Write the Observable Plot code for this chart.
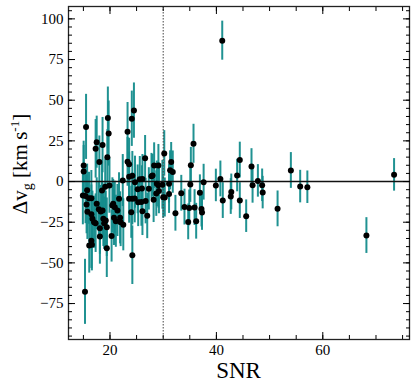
<!DOCTYPE html>
<html>
<head>
<meta charset="utf-8">
<script src="https://cdn.jsdelivr.net/npm/d3@7"></script>
<script src="https://cdn.jsdelivr.net/npm/@observablehq/plot@0.6"></script>
<style>
  html, body { margin: 0; padding: 0; background: #fff; }
  #chart { width: 415px; height: 388px; }
  #chart svg, #chart svg text, #chart svg tspan { font-family: "Liberation Serif", serif !important; }
</style>
</head>
<body>
<div id="chart"></div>
<script>
// SNR values
const snr = [41.1, 15.5, 19.6, 19.75, 24.5, 24.1, 23.3, 17.5, 17.3, 18.6,
  18.0, 19.5, 15.05, 15.05, 23.3, 23.6, 26.6, 30.2, 31.5, 31.3,
  31.8, 28.3, 29.1, 35.7, 35.2, 44.4, 43.9, 46.6, 40.75, 22.4,
  23.6, 24.2, 25.6, 26.1, 27.8, 28.0, 24.7, 47.8, 54.0, 73.4,
  28.8, 29.1, 29.85, 27.3, 31.1, 25.2, 26.0, 33.4, 35.1, 37.6,
  39.9, 36.9, 42.7, 42.8, 18.5, 15.7, 19.1, 19.9, 14.9, 15.4,
  16.5, 16.05, 31.1, 30.0, 30.3, 32.3, 34.0, 34.9, 34.7, 35.9,
  36.2, 37.2, 37.3, 41.2, 44.4, 45.6, 46.8, 48.6, 48.7, 51.5,
  55.75, 57.1, 68.2, 15.6, 15.75, 16.5, 16.7, 17.0, 17.3, 17.5,
  17.9, 18.25, 18.6, 18.1, 18.75, 19.2, 18.9, 19.4, 20.45, 20.9,
  20.6, 20.75, 21.1, 21.9, 22.0, 22.5, 21.7, 23.6, 24.2, 24.65,
  24.0, 25.3, 25.9, 26.7, 26.1, 27.0, 28.2, 28.7, 29.2, 15.3,
  24.2, 19.4, 16.1, 16.6, 16.5, 20.3, 18.1, 21.4];
// Delta v_g values (km/s)
const dv = [86.6, 33.6, 39.1, 29.5, 43.6, 38.6, 30.6, 24.2, 20.1, 22.4,
  12.0, 14.9, 9.8, 6.2, 12.1, 10.6, 14.3, 17.3, 12.0, 6.9,
  5.8, 9.8, 9.8, 23.2, 10.0, 13.2, 3.7, 9.2, 1.6, 0.6,
  3.0, 3.5, 1.4, 1.6, 3.3, 3.7, -0.4, 0.4, 6.8, 4.1,
  -1.4, -2.3, -2.0, -4.5, -1.3, -4.8, -4.3, -7.2, -1.8, -0.4,
  -2.4, -6.9, -9.2, -6.4, -5.5, -5.3, -3.2, -2.5, -8.6, -8.9,
  -10.2, -10.3, -7.6, -9.6, -9.8, -19.5, -15.7, -16.2, -24.8, -16.0,
  -24.4, -16.9, -19.0, -11.7, -11.7, -21.3, -2.3, -2.3, -6.8, -16.8,
  -3.1, -3.5, -33.2, -14.1, -18.6, -20.1, -22.9, -25.0, -25.6, -13.7,
  -17.1, -18.4, -17.8, -28.7, -22.9, -24.0, -25.6, -28.1, -14.7, -15.8,
  -13.7, -22.3, -24.4, -22.3, -25.0, -26.6, -10.6, -10.6, -10.6, -10.4,
  -18.9, -12.7, -12.5, -12.0, -18.2, -21.1, -11.2, -7.4, -5.8, -67.8,
  -45.3, -41.0, -39.3, -38.9, -36.4, -33.5, -33.8, -17.8];
// uncertainties (km/s)
const err = [12, 20, 19, 20, 17, 17, 18, 16, 18, 17,
  16, 17, 15, 16, 15, 16, 14, 14, 12, 12,
  13, 14, 13, 12, 11, 11, 10, 11, 11, 16,
  15, 15, 14, 15, 14, 13, 16, 10, 11, 10,
  14, 14, 15, 13, 12, 15, 14, 11, 11, 11,
  10, 11, 11, 11, 17, 16, 17, 17, 18, 17,
  17, 16, 12, 13, 12, 11, 11, 11, 11, 11,
  11, 11, 11, 11, 11, 10, 11, 10, 10, 11,
  10, 10, 11, 18, 17, 18, 17, 16, 18, 16,
  17, 16, 17, 16, 17, 18, 16, 18, 17, 16,
  15, 17, 16, 16, 15, 16, 16, 15, 16, 15,
  16, 15, 15, 14, 15, 14, 14, 14, 14, 20,
  18, 18, 17, 16, 17, 16, 17, 16];

const xMajorTicks = [20, 40, 60];
const xMinorTicks = [15, 20, 25, 30, 35, 40, 45, 50, 55, 60, 65, 70, 75];
const yMajorTicks = [-75, -50, -25, 0, 25, 50, 75, 100];
const yMinorTicks = [-95, -90, -85, -80, -75, -70, -65, -60, -55, -50, -45, -40, -35, -30, -25, -20, -15, -10, -5,
  0, 5, 10, 15, 20, 25, 30, 35, 40, 45, 50, 55, 60, 65, 70, 75, 80, 85, 90, 95, 100, 105];
const zeroLine = [0];
const snrCut = [30];

const rows = snr.map((s, i) => ({snr: s, dv: dv[i], err: err[i]}));

const chart = Plot.plot({
  width: 415,
  height: 388,
  marginLeft: 68,
  marginRight: 6,
  marginTop: 6,
  marginBottom: 49,
  style: {fontFamily: "'Liberation Serif', serif", fontSize: "15px", color: "#000", background: "#fff"},
  x: {domain: [12.2, 76.3]},
  y: {domain: [-97.1, 107.6]},
  marks: [
    Plot.ruleX(rows, {x: "snr", y1: d => d.dv - d.err, y2: d => d.dv + d.err, stroke: "#148c8c", strokeWidth: 2, strokeOpacity: 0.95}),
    Plot.ruleY(zeroLine, {stroke: "#111", strokeWidth: 1.6}),
    Plot.ruleX(snrCut, {stroke: "#444", strokeWidth: 1, strokeDasharray: "1.5,1.5"}),
    Plot.dot(rows, {x: "snr", y: "dv", r: 3, fill: "#000", stroke: "none"}),
    Plot.frame({stroke: "#222", strokeWidth: 1.3}),
    // minor ticks (inward, mirrored)
    Plot.axisX(xMinorTicks, {anchor: "bottom", tickSize: -4, text: null, label: null}),
    Plot.axisX(xMinorTicks, {anchor: "top", tickSize: -4, text: null, label: null}),
    Plot.axisY(yMinorTicks, {anchor: "left", tickSize: -4, text: null, label: null}),
    Plot.axisY(yMinorTicks, {anchor: "right", tickSize: -4, text: null, label: null}),
    // major ticks (inward, mirrored)
    Plot.axisX(xMajorTicks, {anchor: "bottom", tickSize: -7, text: null, label: null}),
    Plot.axisX(xMajorTicks, {anchor: "top", tickSize: -7, text: null, label: null}),
    Plot.axisY(yMajorTicks, {anchor: "left", tickSize: -7, text: null, label: null}),
    Plot.axisY(yMajorTicks, {anchor: "right", tickSize: -7, text: null, label: null}),
    // tick labels
    Plot.axisX(xMajorTicks, {anchor: "bottom", tickSize: 0, tickPadding: 5, label: null, fontSize: 15}),
    Plot.axisY(yMajorTicks, {anchor: "left", tickSize: 0, tickPadding: 5, label: null, fontSize: 15})
  ]
});

document.getElementById("chart").appendChild(chart);

const svg = d3.select(chart);
// x-axis title
svg.append("text")
  .attr("x", 238.5)
  .attr("y", 378)
  .attr("text-anchor", "middle")
  .attr("font-size", 23)
  .attr("fill", "#000")
  .text("SNR");

// y-axis title with sub/superscripts
const yt = svg.append("text")
  .attr("transform", "translate(27,164) rotate(-90)")
  .attr("text-anchor", "middle")
  .attr("font-size", 21)
  .attr("fill", "#000");
yt.append("tspan").text("Δv");
yt.append("tspan").attr("font-size", 14).attr("dy", 5).text("g");
yt.append("tspan").attr("dy", -5).text("\u00a0[km\u2009s");
yt.append("tspan").attr("font-size", 13).attr("dy", -8).text("-1");
yt.append("tspan").attr("dy", 8).text("]");
</script>
</body>
</html>
